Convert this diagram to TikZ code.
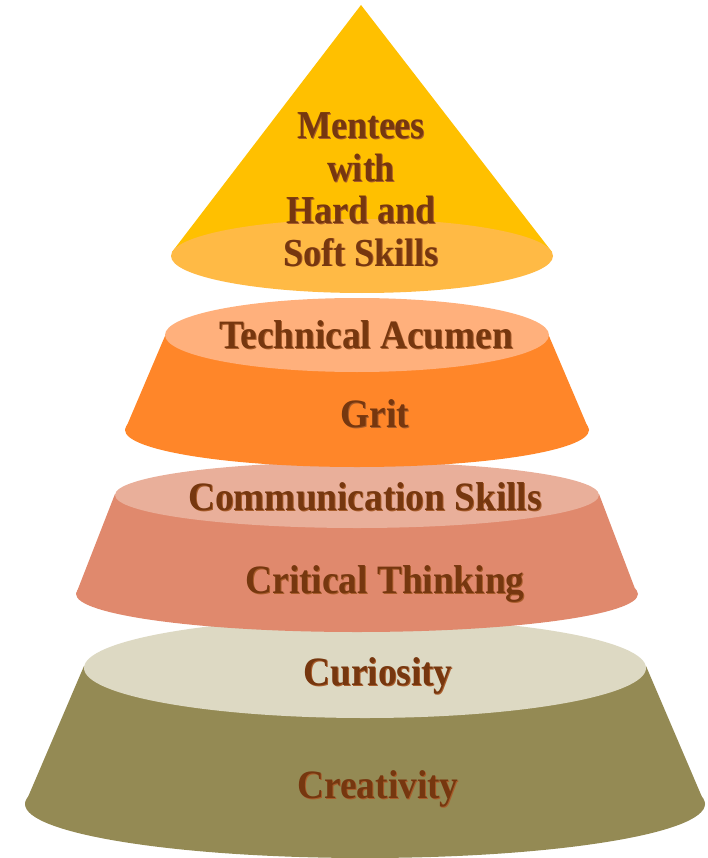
\documentclass[tikz,border=0pt]{standalone}
\usepackage{fontspec}
\setmainfont{Liberation Serif}
\usetikzlibrary{calc}
\definecolor{txt}{HTML}{76370F}
\definecolor{txtsh}{HTML}{A85C2A}
\definecolor{tA}{HTML}{FFC000}
\definecolor{tAe}{HTML}{FFBA45}
\definecolor{tBt}{HTML}{FFB07C}
\definecolor{tBb}{HTML}{FF8629}
\definecolor{tCt}{HTML}{E9AF9A}
\definecolor{tCb}{HTML}{E0896D}
\definecolor{tDt}{HTML}{DDD9C3}
\definecolor{tDb}{HTML}{948A54}
\newcommand{\toptxt}[1]{\scalebox{1}[1.1]{\fontsize{36}{43}\bfseries #1}}
\newcommand{\shtxt}[1]{\scalebox{1}[1.08]{\fontsize{37.3}{44}\bfseries #1}}
\tikzset{
  lblsh/.style={text=txtsh, inner sep=0pt, anchor=base, align=center},
  lbl/.style={text=txt, inner sep=0pt, anchor=base, align=center}
}
\begin{document}
\begin{tikzpicture}[x=1pt,y=-1pt]
\useasboundingbox (0,0) rectangle (707,858);
% Tier 4 (bottom)
\fill[tDb] (84,666) -- (25,804) -- (705,804) -- (646,666) -- cycle;
\fill[tDb] (365,804) ellipse [x radius=340pt, y radius=54pt];
\fill[tDt] (365,668) ellipse [x radius=281pt, y radius=50pt];
% Tier 3
\fill[tCb] (115,494) -- (76,594) -- (637,594) -- (599,494) -- cycle;
\fill[tCb] (357,594) ellipse [x radius=281pt, y radius=38pt];
\fill[tCt] (357,495) ellipse [x radius=242pt, y radius=33pt];
% Tier 2
\fill[tBb] (165,336) -- (125,430) -- (589,430) -- (549,336) -- cycle;
\fill[tBb] (357,430) ellipse [x radius=232pt, y radius=37pt];
\fill[tBt] (357,335) ellipse [x radius=192pt, y radius=37pt];
% Tier 1 (top)
\fill[tA] (361,5) -- (172,252) -- (552,252) -- cycle;
\fill[tAe] (362,256) ellipse [x radius=191pt, y radius=37pt];
% Labels
\node[lblsh] at (362,140) {\toptxt{Mentees}};
\node[lbl] (l1) at (361,139) {\toptxt{Mentees}};
\node[lblsh] at (362,183) {\toptxt{with}};
\node[lbl] (l2) at (361,182) {\toptxt{with}};
\node[lblsh] at (362,225) {\toptxt{Hard and}};
\node[lbl] (l3) at (361,224) {\toptxt{Hard and}};
\node[lblsh] at (362,267) {\toptxt{Soft Skills}};
\node[lbl] (l4) at (361,266) {\toptxt{Soft Skills}};
\node[lblsh] at (367,349) {\shtxt{Technical Acumen}};
\node[lbl] (l5) at (366,348) {\shtxt{Technical Acumen}};
\node[lblsh] at (376,428) {\shtxt{Grit}};
\node[lbl] (l6) at (375,427) {\shtxt{Grit}};
\node[lblsh] at (366,511) {\shtxt{Communication Skills}};
\node[lbl] (l7) at (365,510) {\shtxt{Communication Skills}};
\node[lblsh] at (386,594) {\shtxt{Critical Thinking}};
\node[lbl] (l8) at (385,593) {\shtxt{Critical Thinking}};
\node[lblsh] at (379,686) {\shtxt{Curiosity}};
\node[lbl] (l9) at (378,685) {\shtxt{Curiosity}};
\node[lblsh] at (379,799) {\shtxt{Creativity}};
\node[lbl] (l10) at (378,798) {\shtxt{Creativity}};
\end{tikzpicture}
\end{document}
